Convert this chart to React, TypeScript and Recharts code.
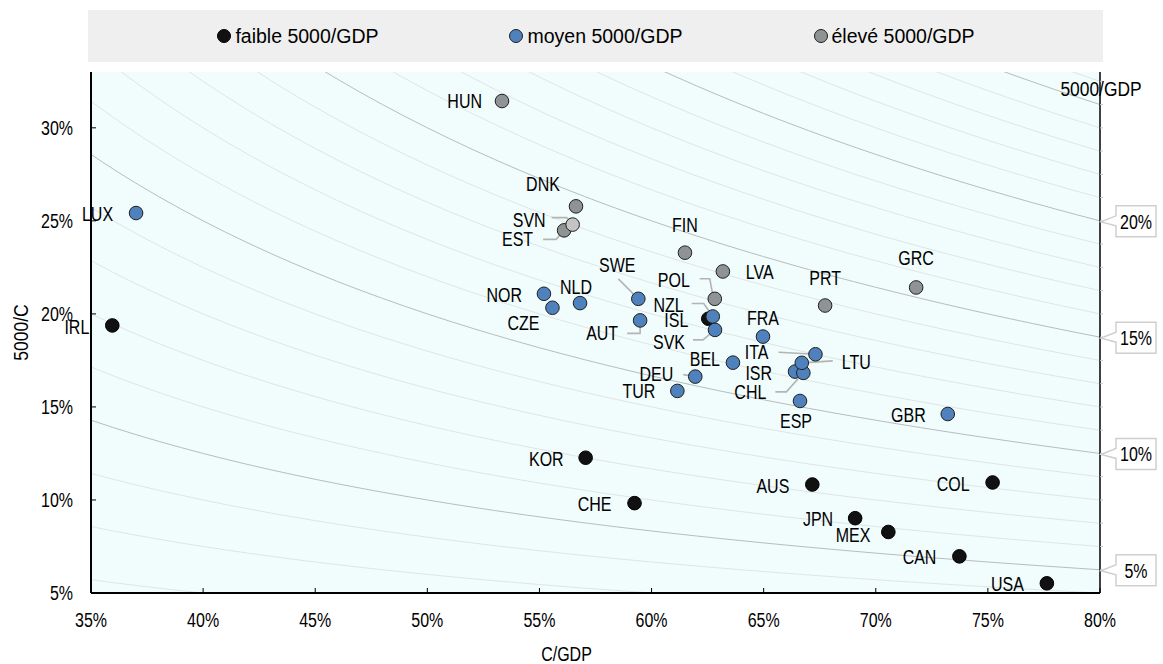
import {
  ComposedChart,
  Scatter,
  Line,
  XAxis,
  YAxis,
  CartesianGrid,
  Legend,
  Label,
} from "recharts";

const SANS = "'Liberation Sans', Arial, sans-serif";

// axes
const xTicks = [35, 40, 45, 50, 55, 60, 65, 70, 75, 80];
const yTicks = [5, 10, 15, 20, 25, 30];
const xDomain = [35, 80];
const yDomain = [5, 33];

// iso 5000/GDP levels (% of GDP)
const isoLevels = [2, 3, 4, 5, 6, 7, 8, 9, 10, 11, 12, 13, 14, 15, 16, 17, 18, 19, 20, 21, 22, 23, 24, 25, 26];
const isoMajor = [5, 10, 15, 20, 25];
const isoSampleX = [
  35, 36, 37, 38, 39, 40, 41, 42, 43, 44, 45, 46, 47, 48, 49, 50, 51, 52, 53, 54, 55, 56, 57, 58,
  59, 60, 61, 62, 63, 64, 65, 66, 67, 68, 69, 70, 71, 72, 73, 74, 75, 76, 77, 78, 79, 80,
];

// countries: x = C/GDP, y = 5000/C
const faible = [
  { code: "IRL", x: 35.95, y: 19.38 },
  { code: "ISL", x: 62.53, y: 19.74 },
  { code: "KOR", x: 57.06, y: 12.27 },
  { code: "CHE", x: 59.24, y: 9.83 },
  { code: "AUS", x: 67.17, y: 10.83 },
  { code: "COL", x: 75.21, y: 10.94 },
  { code: "JPN", x: 69.08, y: 9.02 },
  { code: "MEX", x: 70.56, y: 8.28 },
  { code: "CAN", x: 73.73, y: 6.97 },
  { code: "USA", x: 77.63, y: 5.52 },
];

const moyen = [
  { code: "LUX", x: 37.01, y: 25.42 },
  { code: "NOR", x: 55.2, y: 21.08 },
  { code: "NLD", x: 56.81, y: 20.58 },
  { code: "CZE", x: 55.58, y: 20.33 },
  { code: "SWE", x: 59.41, y: 20.81 },
  { code: "AUT", x: 59.49, y: 19.65 },
  { code: "NZL", x: 62.73, y: 19.86 },
  { code: "SVK", x: 62.83, y: 19.14 },
  { code: "FRA", x: 64.97, y: 18.78 },
  { code: "BEL", x: 63.63, y: 17.38 },
  { code: "DEU", x: 61.95, y: 16.63 },
  { code: "TUR", x: 61.15, y: 15.86 },
  { code: "ISR", x: 66.4, y: 16.9 },
  { code: "CHL", x: 66.77, y: 16.83 },
  { code: "LTU", x: 66.7, y: 17.37 },
  { code: "ITA", x: 67.31, y: 17.83 },
  { code: "ESP", x: 66.62, y: 15.32 },
  { code: "GBR", x: 73.21, y: 14.62 },
];

const eleve = [
  { code: "HUN", x: 53.33, y: 31.44 },
  { code: "DNK", x: 56.63, y: 25.78 },
  { code: "EST", x: 56.1, y: 24.49 },
  { code: "SVN", x: 56.48, y: 24.8 },
  { code: "FIN", x: 61.49, y: 23.29 },
  { code: "LVA", x: 63.18, y: 22.28 },
  { code: "POL", x: 62.82, y: 20.81 },
  { code: "PRT", x: 67.74, y: 20.45 },
  { code: "GRC", x: 71.8, y: 21.42 },
];

const series = [
  { name: "faible 5000/GDP", data: faible, fill: "#111111", stroke: "#000000" },
  { name: "moyen 5000/GDP", data: moyen, fill: "#4f81bd", stroke: "#1f1f1f" },
  { name: "élevé 5000/GDP", data: eleve, fill: "#8f9393", stroke: "#1f1f1f" },
];

// label placement, relative to the dot (text anchor point, leader polyline)
type Place = { dx: number; dy: number; anchor?: "start" | "middle" | "end"; leader?: number[][] };
const placement: Record<string, Place> = {
  IRL: { dx: -23, dy: 2 },
  ISL: { dx: -20, dy: 1 },
  KOR: { dx: -22, dy: 1 },
  CHE: { dx: -23, dy: 1 },
  AUS: { dx: -23, dy: 1 },
  COL: { dx: -23, dy: 2 },
  JPN: { dx: -22, dy: 1 },
  MEX: { dx: -18, dy: 3 },
  CAN: { dx: -23, dy: 1 },
  USA: { dx: -23, dy: 1 },
  LUX: { dx: -23, dy: 1 },
  NOR: { dx: -22, dy: 1 },
  NLD: { dx: -4, dy: -16, anchor: "middle" },
  CZE: { dx: -29, dy: 15, anchor: "middle" },
  SWE: { dx: -21, dy: -34, anchor: "middle", leader: [[-20, -20], [0, 0]] },
  AUT: { dx: -22, dy: 13, leader: [[-13, 13], [0, 13], [0, 0]] },
  NZL: { dx: -29, dy: -12, leader: [[-21, -13], [-9, -13], [0, 0]] },
  SVK: { dx: -30, dy: 12, leader: [[-22, 10], [-12, 10], [0, 0]] },
  FRA: { dx: 0, dy: -19, anchor: "middle" },
  BEL: { dx: -13, dy: -4 },
  DEU: { dx: -22, dy: -3, leader: [[-12, -2], [0, 0]] },
  TUR: { dx: -22, dy: 0 },
  ISR: { dx: -23, dy: 1 },
  CHL: { dx: -37, dy: 19, leader: [[-28, 19], [-17, 19], [0, 0]] },
  LTU: { dx: 40, dy: -1, anchor: "start", leader: [[31, -2], [0, 0]] },
  ITA: { dx: -47, dy: -2, leader: [[-37, -2], [0, 0]] },
  ESP: { dx: -4, dy: 20, anchor: "middle" },
  GBR: { dx: -22, dy: 1 },
  HUN: { dx: -20, dy: 0 },
  DNK: { dx: -33, dy: -22, anchor: "middle" },
  EST: { dx: -31, dy: 9, leader: [[-21, 9], [-8, 9], [0, 0]] },
  SVN: { dx: -27, dy: -5, leader: [[-21, -7], [-6, -7], [0, 0]] },
  FIN: { dx: 0, dy: -28, anchor: "middle" },
  LVA: { dx: 23, dy: 1, anchor: "start" },
  POL: { dx: -25, dy: -19, leader: [[-15, -20], [-5, -20], [-2, -4]] },
  PRT: { dx: 0, dy: -28, anchor: "middle" },
  GRC: { dx: 0, dy: -29, anchor: "middle" },
};
const lighterDots: Record<string, string> = { SVN: "#c3c5c5" };

const isoCurve = (k: number) => isoSampleX.map((x) => ({ x, y: (100 * k) / x }));
const rightTicks = isoLevels.map((k) => (100 * k) / xDomain[1]).filter((v) => v > yDomain[0] && v < yDomain[1]);
const topTicks = isoLevels.map((k) => (100 * k) / yDomain[1]).filter((v) => v > xDomain[0] && v < xDomain[1]);

// condensed text (Arial Narrow look) from Liberation Sans
function NText({ x, y, anchor = "end", size = 19.5, squeeze = 0.82, rotate = 0, children }: any) {
  return (
    <text
      transform={`translate(${x},${y}) rotate(${rotate}) scale(${squeeze},1)`}
      dy="0.36em"
      textAnchor={anchor}
      fontSize={size}
      fontFamily={SANS}
      fill="#000"
    >
      {children}
    </text>
  );
}

function CountryDot(props: any) {
  const { cx, cy, payload, fill, stroke } = props;
  const p = placement[payload.code] || { dx: -22, dy: 0 };
  const pts = p.leader ? p.leader.map(([a, b]) => `${cx + a},${cy + b}`).join(" ") : null;
  return (
    <g>
      {pts && <polyline points={pts} fill="none" stroke="#b4b4b4" strokeWidth={1.6} />}
      <circle cx={cx} cy={cy} r={6.8} fill={lighterDots[payload.code] || fill} stroke={stroke} strokeWidth={1} />
      <NText x={cx + p.dx} y={cy + p.dy} anchor={p.anchor || "end"}>
        {payload.code}
      </NText>
    </g>
  );
}

function XTick(props: any) {
  const { x, y, payload } = props;
  return <NText x={x} y={y + 8} anchor="middle">{`${payload.value}%`}</NText>;
}

function YTick(props: any) {
  const { x, y, payload } = props;
  return <NText x={x} y={y} anchor="end">{`${payload.value}%`}</NText>;
}

function IsoTick(props: any) {
  const { x, y, payload } = props;
  const level = Math.round((payload.value * xDomain[1]) / 100);
  if (level === 25) {
    return (
      <NText x={x - 2} y={y - 16} anchor="middle" size={20} squeeze={0.87}>
        5000/GDP
      </NText>
    );
  }
  if (!isoMajor.includes(level)) return <g />;
  const bx = x + 13;
  return (
    <g>
      <path
        d={`M${bx},${y - 15} H${bx + 40} V${y + 16} H${bx} V${y + 5} L${x - 2},${y + 1} L${bx},${y - 5} Z`}
        fill="#fff"
        stroke="#cfcfcf"
        strokeWidth={1.5}
      />
      <NText x={bx + 20} y={y + 1} anchor="middle">{`${level}%`}</NText>
    </g>
  );
}

function LegendBox() {
  return (
    <div
      style={{
        width: 1015,
        height: 52,
        background: "#efefef",
        display: "flex",
        alignItems: "center",
        justifyContent: "center",
        gap: 130,
        fontFamily: SANS,
        fontSize: 19.5,
      }}
    >
      {series.map((s) => (
        <div key={s.name} style={{ display: "flex", alignItems: "center" }}>
          <svg width={16} height={16} style={{ marginRight: 3 }}>
            <circle cx={8} cy={8} r={6.5} fill={s.fill} stroke={s.stroke} strokeWidth={1} />
          </svg>
          <span>{s.name}</span>
        </div>
      ))}
    </div>
  );
}

export default function App() {
  return (
    <div style={{ position: "absolute", left: 0, top: 0 }}>
      <ComposedChart width={1163} height={664} margin={{ top: 72, right: 0, bottom: 0, left: 0 }}>
        <CartesianGrid horizontal={false} vertical={false} fill="#f1fcfd" />
        <XAxis
          type="number"
          dataKey="x"
          domain={xDomain}
          ticks={xTicks}
          height={71}
          axisLine={{ stroke: "#000", strokeWidth: 2 }}
          tickLine={{ stroke: "#000" }}
          tickSize={-5}
          tickMargin={24}
          tick={<XTick />}
        >
          <Label
            content={(p: any) => (
              <NText x={p.viewBox.x + p.viewBox.width / 2 - 29} y={p.viewBox.y + 61} anchor="middle">
                C/GDP
              </NText>
            )}
          />
        </XAxis>
        <XAxis
          xAxisId="top"
          orientation="top"
          type="number"
          domain={xDomain}
          ticks={topTicks}
          allowDataOverflow
          height={0}
          tick={false}
          tickSize={3}
          axisLine={{ stroke: "#000", strokeWidth: 1 }}
          tickLine={{ stroke: "#c8c8c8" }}
        />
        <XAxis xAxisId="iso" type="number" dataKey="x" domain={xDomain} allowDataOverflow hide />
        <YAxis
          type="number"
          dataKey="y"
          domain={yDomain}
          ticks={yTicks}
          width={91}
          axisLine={{ stroke: "#000", strokeWidth: 2 }}
          tickLine={{ stroke: "#000" }}
          tickSize={-5}
          tickMargin={23}
          tick={<YTick />}
        >
          <Label
            content={(p: any) => (
              <NText x={21} y={p.viewBox.y + p.viewBox.height / 2} anchor="middle" rotate={-90} squeeze={0.9}>
                5000/C
              </NText>
            )}
          />
        </YAxis>
        <YAxis yAxisId="iso" type="number" domain={yDomain} allowDataOverflow hide />
        <YAxis
          yAxisId="right"
          orientation="right"
          type="number"
          domain={yDomain}
          ticks={rightTicks}
          allowDataOverflow
          width={63}
          axisLine={{ stroke: "#000", strokeWidth: 1.5 }}
          tickLine={{ stroke: "#c8c8c8" }}
          tickSize={3}
          tickMargin={0}
          tick={<IsoTick />}
        />
        <Legend
          layout="horizontal"
          verticalAlign="middle"
          align="center"
          wrapperStyle={{ left: 88, top: 10, width: 1015, height: 52 }}
          content={() => <LegendBox />}
        />
        {isoLevels.map((k) => (
          <Line
            key={`iso-${k}`}
            xAxisId="iso"
            yAxisId="iso"
            data={isoCurve(k)}
            dataKey="y"
            type="monotone"
            stroke={isoMajor.includes(k) ? "#b9bcbc" : "#e1e4e4"}
            strokeWidth={1}
            dot={false}
            activeDot={false}
            legendType="none"
            isAnimationActive={false}
          />
        ))}
        {series.map((s) => (
          <Scatter
            key={s.name}
            name={s.name}
            data={s.data}
            fill={s.fill}
            stroke={s.stroke}
            shape={<CountryDot />}
            isAnimationActive={false}
          />
        ))}
      </ComposedChart>
    </div>
  );
}
